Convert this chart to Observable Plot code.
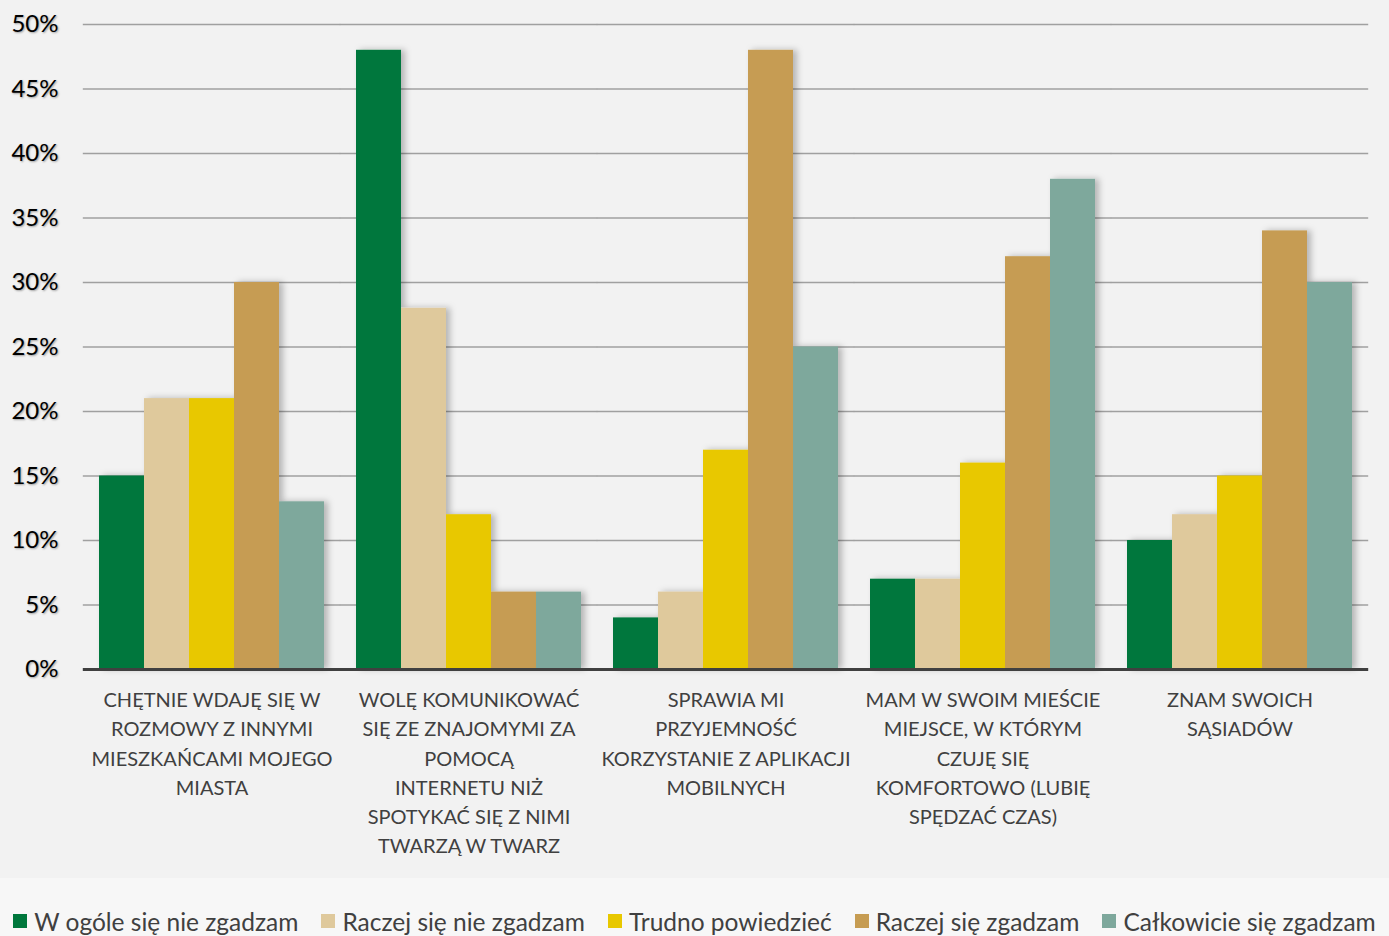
<!DOCTYPE html>
<html>
<head>
<meta charset="utf-8">
<script src="https://cdn.jsdelivr.net/npm/d3@7"></script>
<script src="https://cdn.jsdelivr.net/npm/@observablehq/plot@0.6"></script>
<style>
  html, body { margin: 0; padding: 0; background: #f2f2f2; }
  body { width: 1389px; font-family: Lato, "Open Sans", sans-serif; }
  #chart svg { display: block; }
  .yax text { text-shadow: 1px 1px 2px rgba(0,0,0,0.35); }
  #legend { height: 58px; background: #f7f7f7; display: flex; justify-content: center; align-items: flex-end; gap: 23px; box-sizing: border-box; padding-bottom: 0px; white-space: nowrap; }
  .item { display: flex; align-items: center; font-size: 24.5px; color: #404040; height: 30px; }
  .sw { width: 14px; height: 14px; margin-right: 7px; }
</style>
</head>
<body>
<div id="chart"></div>
<div id="legend"></div>
<script>
const categories = [
  "CHĘTNIE WDAJĘ SIĘ W\nROZMOWY Z INNYMI\nMIESZKAŃCAMI MOJEGO\nMIASTA",
  "WOLĘ KOMUNIKOWAĆ\nSIĘ ZE ZNAJOMYMI ZA\nPOMOCĄ\nINTERNETU NIŻ\nSPOTYKAĆ SIĘ Z NIMI\nTWARZĄ W TWARZ",
  "SPRAWIA MI\nPRZYJEMNOŚĆ\nKORZYSTANIE Z APLIKACJI\nMOBILNYCH",
  "MAM W SWOIM MIEŚCIE\nMIEJSCE, W KTÓRYM\nCZUJĘ SIĘ\nKOMFORTOWO (LUBIĘ\nSPĘDZAĆ CZAS)",
  "ZNAM SWOICH\nSĄSIADÓW"
];
const seriesNames = ["W ogóle się nie zgadzam", "Raczej się nie zgadzam", "Trudno powiedzieć", "Raczej się zgadzam", "Całkowicie się zgadzam"];
const colors = ["#00773c", "#dfc99c", "#e8c800", "#c69c52", "#7ea89c"];
const wOgoleNie = [15, 48, 4, 7, 10];
const raczejNie = [21, 28, 6, 7, 12];
const trudno = [21, 12, 17, 16, 15];
const raczejTak = [30, 6, 48, 32, 34];
const calkowicie = [13, 6, 25, 38, 30];
const yTicks = [0, 5, 10, 15, 20, 25, 30, 35, 40, 45, 50];

const seriesValues = [wOgoleNie, raczejNie, trudno, raczejTak, calkowicie];
const data = [];
categories.forEach((c, i) => seriesNames.forEach((s, j) => data.push({cat: c, series: s, value: seriesValues[j][i]})));

const chart = Plot.plot({
  width: 1389,
  height: 878,
  marginTop: 24,
  marginBottom: 209,
  marginLeft: 82,
  marginRight: 20,
  style: {background: "#f2f2f2", fontFamily: "Lato, 'Open Sans', sans-serif"},
  fx: {domain: categories, paddingInner: 0.125, paddingOuter: 0.0625, label: null},
  x: {domain: seriesNames, padding: 0, axis: null},
  y: {domain: [0, 50], label: null},
  color: {domain: seriesNames, range: colors},
  marks: [
    Plot.ruleY(yTicks.slice(1), {stroke: "#a0a0a0", strokeWidth: 1.5, insetLeft: -16.2, insetRight: -16.2}),
    Plot.barY(data, {fx: "cat", x: "series", y: "value", fill: "series", inset: 0}),
    Plot.ruleY([0], {stroke: "#404040", strokeWidth: 3, insetLeft: -16.2, insetRight: -16.2}),
    Plot.axisY({ticks: yTicks, tickFormat: d => d + "%", tickSize: 0, tickPadding: 41, fontSize: 24, fill: "#000", className: "yax", label: null}),
    Plot.axisFx({anchor: "bottom", tickSize: 0, tickPadding: 17, fontSize: 20, lineHeight: 1.46, fill: "#404040", label: null})
  ]
});
document.getElementById("chart").appendChild(chart);

const svg = d3.select(chart);
const defs = svg.insert("defs", ":first-child");
const f = defs.append("filter").attr("id", "shadow").attr("x", "-10%").attr("y", "-10%").attr("width", "130%").attr("height", "130%");
f.append("feDropShadow").attr("dx", 4).attr("dy", 0).attr("stdDeviation", 3).attr("flood-color", "#000").attr("flood-opacity", 0.25);
chart.querySelectorAll('g[aria-label="bar"]').forEach(g => g.setAttribute("filter", "url(#shadow)"));

const legend = d3.select("#legend");
seriesNames.forEach((s, i) => {
  const it = legend.append("div").attr("class", "item");
  it.append("div").attr("class", "sw").style("background", colors[i]);
  it.append("span").text(s);
});
</script>
</body>
</html>
